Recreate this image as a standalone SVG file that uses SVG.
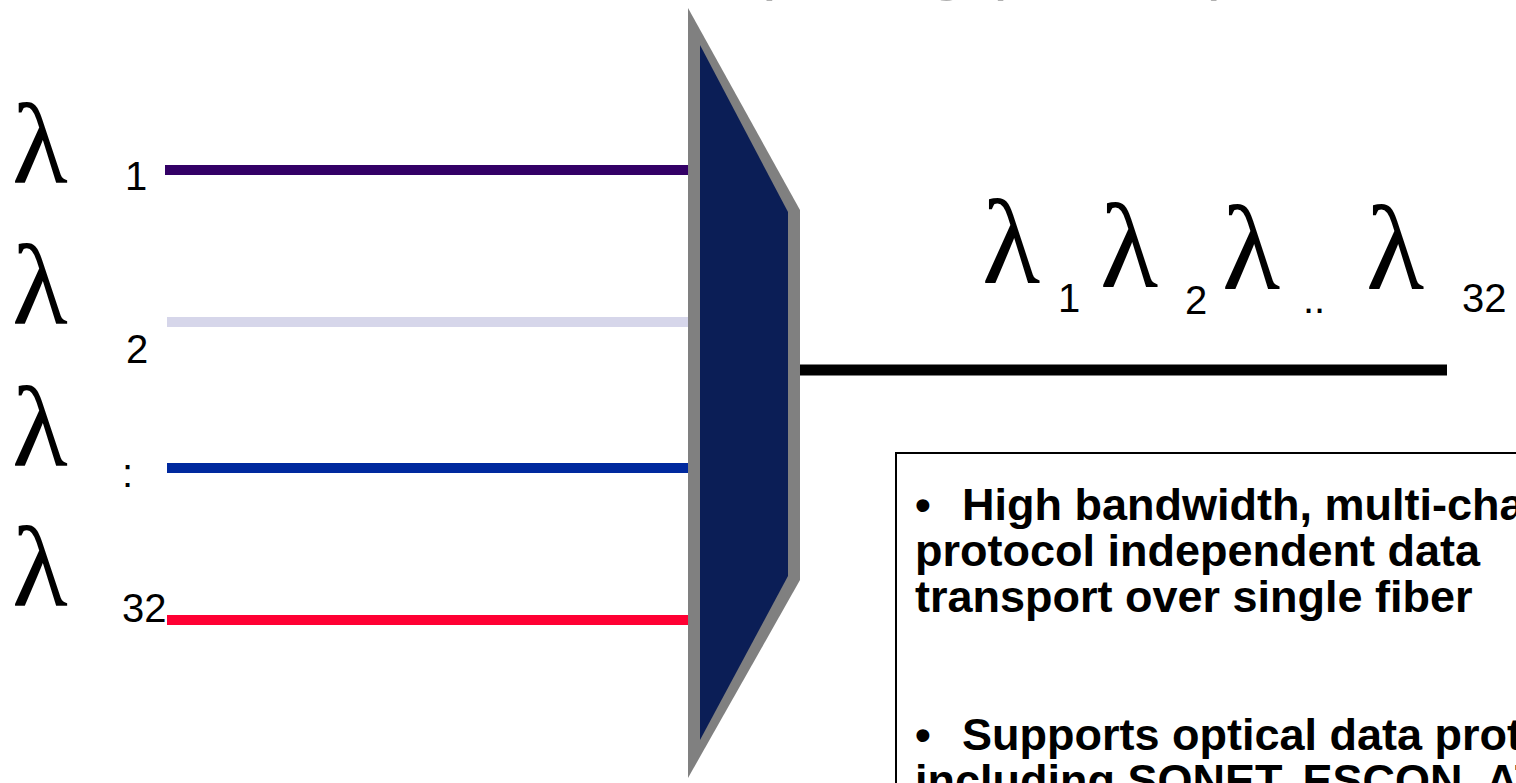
<svg xmlns="http://www.w3.org/2000/svg" width="1516" height="783" viewBox="0 0 1516 783">
<style>
.lam{font-family:"Liberation Serif","Times New Roman",serif;font-size:115px;fill:#000}
.lamr{font-family:"Liberation Serif","Times New Roman",serif;font-size:120px;fill:#000}
.sub{font-family:"Liberation Sans",Arial,sans-serif;font-size:40px;fill:#000}
.body{font-family:"Liberation Sans",Arial,sans-serif;font-size:45px;font-weight:bold;fill:#000}
.title{font-family:"Liberation Sans",Arial,sans-serif;font-size:64px;fill:#b0b0b0}
</style>
<rect width="1516" height="783" fill="#fff"/>
<text class="title" x="627" y="-12">Multiplexing (DWDM)</text>
<g id="inputs">
<text class="lam" x="12" y="182">λ</text>
<text class="sub" x="125" y="190">1</text>
<text class="lam" x="12" y="323">λ</text>
<text class="sub" x="126" y="363">2</text>
<text class="lam" x="12" y="465">λ</text>
<text class="sub" x="122" y="487">:</text>
<text class="lam" x="12" y="605">λ</text>
<text class="sub" x="122" y="622">32</text>
</g>
<g id="connectors">
<line x1="165" y1="170" x2="690" y2="170" stroke="#330066" stroke-width="10"/>
<line x1="167" y1="322" x2="690" y2="322" stroke="#d6d6ea" stroke-width="10"/>
<line x1="167" y1="468" x2="690" y2="468" stroke="#00299e" stroke-width="10"/>
<line x1="167" y1="620" x2="690" y2="620" stroke="#ff0033" stroke-width="10"/>
<line x1="800" y1="370" x2="1447" y2="370" stroke="#000" stroke-width="11"/>
</g>
<g id="mux">
<polygon points="688,8 800,210 800,580 688,778" fill="#808080"/>
<polygon points="700,45 788,212 788,576 700,740" fill="#0b1e56"/>
</g>
<g id="output">
<text class="lamr" x="982" y="283">λ</text>
<text class="sub" x="1058" y="312">1</text>
<text class="lamr" x="1100" y="287">λ</text>
<text class="sub" x="1185" y="314">2</text>
<text class="lamr" x="1222" y="289">λ</text>
<text class="sub" x="1303" y="313">..</text>
<text class="lamr" x="1366" y="289">λ</text>
<text class="sub" x="1462" y="312">32</text>
</g>
<g id="notes">
<rect x="896" y="453" width="640" height="360" fill="#fff" stroke="#000" stroke-width="2"/>
<text class="body" y="520"><tspan x="915">•</tspan><tspan x="962">High bandwidth, multi-channel,</tspan></text>
<text class="body" x="915" y="566">protocol independent data</text>
<text class="body" x="915" y="612">transport over single fiber</text>
<text class="body" y="750"><tspan x="915">•</tspan><tspan x="962">Supports optical data protocols</tspan></text>
<text class="body" x="915" y="796">including SONET, ESCON, ATM</text>
</g>
</svg>
